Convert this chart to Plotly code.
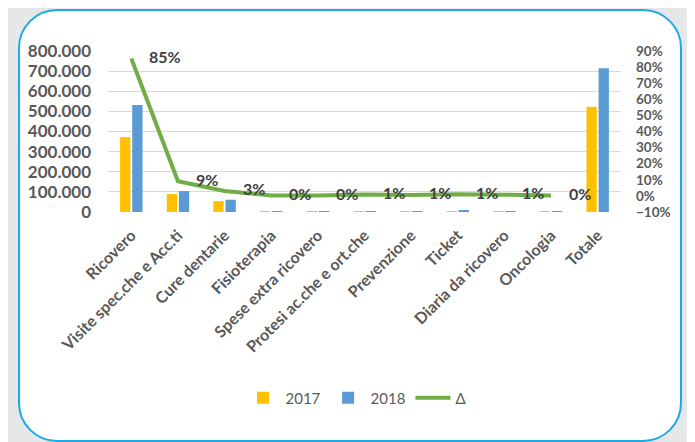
import plotly.graph_objects as go

categories = ["Ricovero", "Visite spec.che e Acc.ti", "Cure dentarie", "Fisioterapia",
              "Spese extra ricovero", "Protesi ac.che e ort.che", "Prevenzione", "Ticket",
              "Diaria da ricovero", "Oncologia", "Totale"]
v2017 = [372000, 89000, 54000, 1500, 800, 1000, 2500, 4000, 3500, 500, 523000]
v2018 = [532000, 104000, 61000, 1800, 1000, 2000, 3000, 5000, 4500, 800, 714000]
delta = [0.853, 0.091, 0.031, 0.002, 0.003, 0.008, 0.006, 0.010, 0.007, 0.002, None]
series_names = ["2017", "2018", "Δ"]

OFF = 8  # page body margin in the browser
W, H = 695, 442
ML, MR, MT, MB = 108 - OFF, 74 + OFF, 51 - OFF, 230 + OFF
PW, PH = W - ML - MR, H - MT - MB

def fx(px):
    return (px - OFF - ML) / PW

def fy(py):
    return (H - MB - (py - OFF)) / PH

def rounded_rect(x0, y0, x1, y1, r):
    k = 0.5523 * r
    pts = []
    pts.append(f"M {fx(x0 + r)},{fy(y0)}")
    pts.append(f"L {fx(x1 - r)},{fy(y0)}")
    pts.append(f"C {fx(x1 - r + k)},{fy(y0)} {fx(x1)},{fy(y0 + r - k)} {fx(x1)},{fy(y0 + r)}")
    pts.append(f"L {fx(x1)},{fy(y1 - r)}")
    pts.append(f"C {fx(x1)},{fy(y1 - r + k)} {fx(x1 - r + k)},{fy(y1)} {fx(x1 - r)},{fy(y1)}")
    pts.append(f"L {fx(x0 + r)},{fy(y1)}")
    pts.append(f"C {fx(x0 + r - k)},{fy(y1)} {fx(x0)},{fy(y1 - r + k)} {fx(x0)},{fy(y1 - r)}")
    pts.append(f"L {fx(x0)},{fy(y0 + r)}")
    pts.append(f"C {fx(x0)},{fy(y0 + r - k)} {fx(x0 + r - k)},{fy(y0)} {fx(x0 + r)},{fy(y0)} Z")
    return " ".join(pts)

FONT = "Lato"
GREY = "#595959"

fig = go.Figure()
fig.add_trace(go.Bar(x=categories, y=v2017, name=series_names[0], marker_color="#FFC000"))
fig.add_trace(go.Bar(x=categories, y=v2018, name=series_names[1], marker_color="#5B9BD5"))
fig.add_trace(go.Scatter(x=categories, y=delta, name=series_names[2], yaxis="y2",
                         mode="lines", line=dict(color="#70AD47", width=4)))

annotations = []
for c, d in zip(categories, delta):
    if d is None:
        continue
    annotations.append(dict(x=c, y=d, yref="y2", xref="x", text=f"{d:.0%}",
                            showarrow=False, xanchor="left", yanchor="middle",
                            xshift=16, yshift=2,
                            font=dict(family=FONT, size=16, color="#404040", weight="bold")))

fig.update_layout(
    template="none",
    width=W, height=H,
    margin=dict(l=ML, r=MR, t=MT, b=MB, autoexpand=False),
    paper_bgcolor="#E6E7E9",
    plot_bgcolor="rgba(0,0,0,0)",
    separators=",.",
    barmode="group",
    bargap=0.48,
    bargroupgap=0.15,
    showlegend=True,
    legend=dict(orientation="h", x=fx(356), xanchor="center", y=fy(398), yanchor="middle",
                font=dict(family=FONT, size=15, color=GREY), bgcolor="rgba(0,0,0,0)",
                itemwidth=35),
    xaxis=dict(tickangle=-45, showline=False, ticks="", showgrid=False, automargin=False,
               ticklabelstandoff=10,
               tickfont=dict(family=FONT, size=16, color=GREY, weight="bold")),
    yaxis=dict(range=[0, 800000], dtick=100000, tickformat=",", showgrid=True,
               gridcolor="#D9D9D9", gridwidth=1, zeroline=False, showline=False,
               ticks="", ticklabelstandoff=16, automargin=False,
               tickfont=dict(family=FONT, size=17, color=GREY, weight="bold")),
    yaxis2=dict(range=[-0.1, 0.9], dtick=0.1, tickformat=".0%", overlaying="y",
                side="right", showgrid=False, zeroline=False, showline=False,
                ticks="", ticklabelstandoff=14, automargin=False,
                tickfont=dict(family=FONT, size=13.5, color=GREY, weight="bold")),
    annotations=annotations,
    shapes=[dict(type="path", xref="paper", yref="paper", layer="below",
                 path=rounded_rect(19, 10, 681, 441, 38),
                 fillcolor="white", line=dict(color="#1CA9E6", width=2))],
)

fig.write_html("out.html")
